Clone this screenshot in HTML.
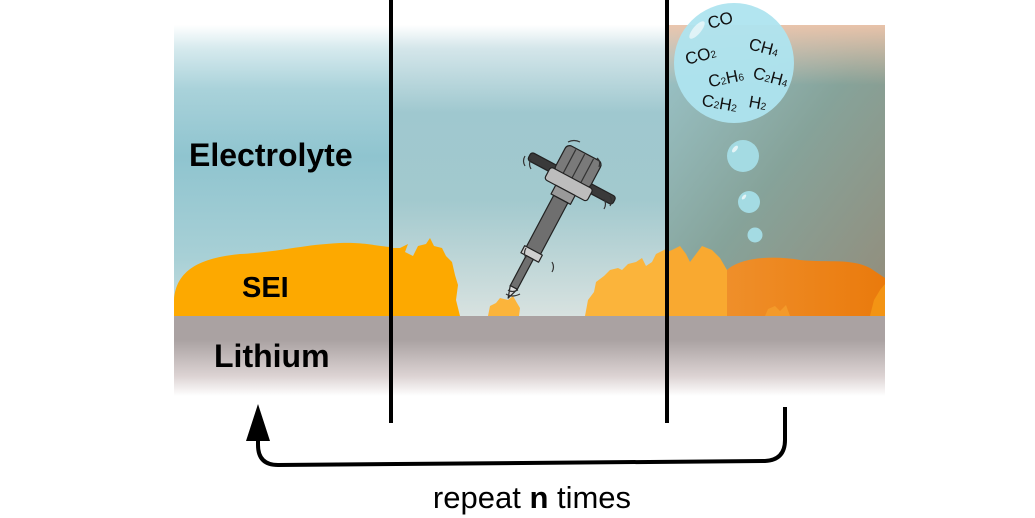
<!DOCTYPE html>
<html><head><meta charset="utf-8"><style>
html,body{margin:0;padding:0;background:#fff;}
svg{display:block;font-family:"Liberation Sans",sans-serif;}
</style></head><body>
<svg width="1035" height="518" viewBox="0 0 1035 518" xmlns="http://www.w3.org/2000/svg">
<defs>
<linearGradient id="elec" x1="0" y1="0" x2="0" y2="1">
<stop offset="0" stop-color="#ffffff"/>
<stop offset="0.08" stop-color="#d6eaee"/>
<stop offset="0.22" stop-color="#a9d2da"/>
<stop offset="0.45" stop-color="#8fc4cf"/>
<stop offset="0.8" stop-color="#a8d0d6"/>
<stop offset="1" stop-color="#c9dedf"/>
</linearGradient>
<linearGradient id="elec2" x1="0" y1="0" x2="0" y2="1">
<stop offset="0" stop-color="#ffffff"/>
<stop offset="0.08" stop-color="#d4e6ea"/>
<stop offset="0.3" stop-color="#9fc8cf"/>
<stop offset="0.6" stop-color="#a2c9ce"/>
<stop offset="1" stop-color="#d8e2e0"/>
</linearGradient>
<linearGradient id="elec3" x1="0" y1="0" x2="1" y2="1">
<stop offset="0" stop-color="#9cc6cc"/>
<stop offset="0.5" stop-color="#86a39a"/>
<stop offset="1" stop-color="#948c7a"/>
</linearGradient>
<linearGradient id="topfade" x1="0" y1="0" x2="0" y2="1">
<stop offset="0" stop-color="#f3c6ab" stop-opacity="0.9"/>
<stop offset="1" stop-color="#f3c6ab" stop-opacity="0"/>
</linearGradient>
<linearGradient id="li" x1="0" y1="0" x2="0" y2="1">
<stop offset="0" stop-color="#aaa2a2"/>
<stop offset="0.3" stop-color="#aaa2a2"/>
<stop offset="0.75" stop-color="#dcd3d3"/>
<stop offset="1" stop-color="#ffffff"/>
</linearGradient>
<linearGradient id="sei3" x1="0" y1="0" x2="1" y2="0">
<stop offset="0" stop-color="#ef8f2a"/>
<stop offset="1" stop-color="#ea7a0c"/>
</linearGradient>
</defs>
<rect x="174" y="25" width="217" height="292" fill="url(#elec)"/>
<rect x="391" y="25" width="276" height="292" fill="url(#elec2)"/>
<rect x="667" y="25" width="218" height="292" fill="url(#elec3)"/>
<rect x="667" y="25" width="218" height="60" fill="url(#topfade)"/>
<rect x="174" y="316" width="711" height="80" fill="url(#li)"/>
<path d="M174,316 L174,300 C176,270 200,258 240,254 C280,252 300,245 340,243 C365,242 375,246 391,247 L391,316 Z" fill="#fda900"/>
<path d="M391,316 L391,248 L400,248 L408,244 L405,252 L413,256 L418,246 L426,244 L430,238 L434,246 L442,248 L446,256 L452,262 L455,275 L458,285 L456,300 L460,316 Z" fill="#fda900"/>
<path d="M488,316 L490,306 L496,303 L500,298 L508,300 L513,296 L517,303 L520,308 L519,316 Z" fill="#fbb43b"/>
<path d="M585,316 L588,300 L594,292 L596,282 L604,276 L610,270 L618,268 L622,270 L628,264 L636,262 L642,258 L646,266 L652,262 L656,254 L664,250 L667,248 L667,316 Z" fill="#fbb43b"/>
<path d="M667,316 L667,252 L672,250 L680,246 L686,254 L690,262 L696,254 L702,246 L712,250 L720,258 L727,270 L730,316 Z" fill="#f9a930"/>
<path d="M727,316 L727,270 C740,258 770,255 800,260 C830,263 850,258 870,268 L885,278 L885,316 Z" fill="url(#sei3)"/>
<path d="M870,316 L874,300 L880,290 L885,284 L885,316 Z" fill="#f39414"/>
<path d="M765,316 L768,309 L775,306 L780,311 L786,305 L790,316 Z" fill="#f39a2a"/>
<line x1="391" y1="0" x2="391" y2="423" stroke="#000" stroke-width="4"/>
<line x1="667" y1="0" x2="667" y2="423" stroke="#000" stroke-width="4"/>
<text x="189" y="166" font-size="32" font-weight="bold">Electrolyte</text>
<text x="242" y="297" font-size="29" font-weight="bold">SEI</text>
<text x="214" y="367" font-size="32" font-weight="bold">Lithium</text>
<circle cx="734" cy="63" r="60" fill="#aee4ef" opacity="0.95"/>
<ellipse cx="697" cy="30" rx="4" ry="11" fill="#fff" opacity="0.6" transform="rotate(40 697 30)"/>
<g font-size="17" fill="#111">
<text x="708" y="26" transform="rotate(-15 720 22)">CO</text>
<text x="685" y="62" transform="rotate(-15 697 56)">CO<tspan font-size="10">2</tspan></text>
<text x="749" y="52" transform="rotate(15 760 46)">CH<tspan font-size="10">4</tspan></text>
<text x="708" y="84" transform="rotate(-12 725 78)">C<tspan font-size="10">2</tspan>H<tspan font-size="10">6</tspan></text>
<text x="753" y="82" transform="rotate(15 768 76)">C<tspan font-size="10">2</tspan>H<tspan font-size="10">4</tspan></text>
<text x="702" y="108" transform="rotate(10 715 101)">C<tspan font-size="10">2</tspan>H<tspan font-size="10">2</tspan></text>
<text x="749" y="109" transform="rotate(10 760 102)">H<tspan font-size="10">2</tspan></text>
</g>
<circle cx="743" cy="156" r="16" fill="#a4dbe3"/>
<ellipse cx="735" cy="149" rx="2" ry="4" fill="#fff" opacity="0.7" transform="rotate(40 735 149)"/>
<circle cx="749" cy="202" r="11" fill="#a4dbe3"/>
<ellipse cx="744" cy="197" rx="1.5" ry="3" fill="#fff" opacity="0.7" transform="rotate(40 744 197)"/>
<circle cx="755" cy="235" r="7.5" fill="#a4dbe3"/>
<g transform="translate(572,178) rotate(28)" stroke="#222" stroke-width="1.2" stroke-linejoin="round">
<rect x="-48" y="-4" width="96" height="9" rx="3" fill="#3a3a3a"/>
<rect x="-20" y="-28" width="40" height="30" rx="5" fill="#7a7a7a"/>
<line x1="-10" y1="-27" x2="-10" y2="1" stroke="#333"/>
<line x1="0" y1="-27" x2="0" y2="1" stroke="#333"/>
<line x1="10" y1="-27" x2="10" y2="1" stroke="#333"/>
<rect x="-24" y="0" width="48" height="14" rx="3" fill="#bdbdbd"/>
<rect x="-11" y="14" width="22" height="10" fill="#9a9a9a"/>
<rect x="-8" y="24" width="16" height="60" fill="#6f6f6f"/>
<rect x="-10" y="82" width="20" height="8" fill="#cfcfcf"/>
<rect x="-4" y="90" width="8" height="34" fill="#6f6f6f"/>
<path d="M-4,124 L4,124 L0,136 Z" fill="#ddd"/>
</g>
<g fill="none" stroke="#333" stroke-width="1.2">
<path d="M525,156 q-3,5 0,10"/><path d="M531,159 q-3,5 0,10"/>
<path d="M610,196 q3,5 0,10"/><path d="M604,199 q3,5 0,10"/>
<path d="M568,142 q6,-3 12,0"/><path d="M597,158 q4,3 2,9"/>
<path d="M508,290 q4,3 10,0"/><path d="M506,294 q6,4 14,0"/>
<path d="M526,248 q-3,5 0,10"/><path d="M552,262 q3,5 0,10"/>
</g>
<path d="M785,407 L785,440 Q785,460 765,461 L278,465 Q258,465 258,445 L258,430" fill="none" stroke="#000" stroke-width="4"/>
<path d="M258,404 L246,441 L270,441 Z" fill="#000"/>
<text x="532" y="508" font-size="31" text-anchor="middle">repeat <tspan font-weight="bold">n</tspan> times</text>
</svg>
</body></html>
